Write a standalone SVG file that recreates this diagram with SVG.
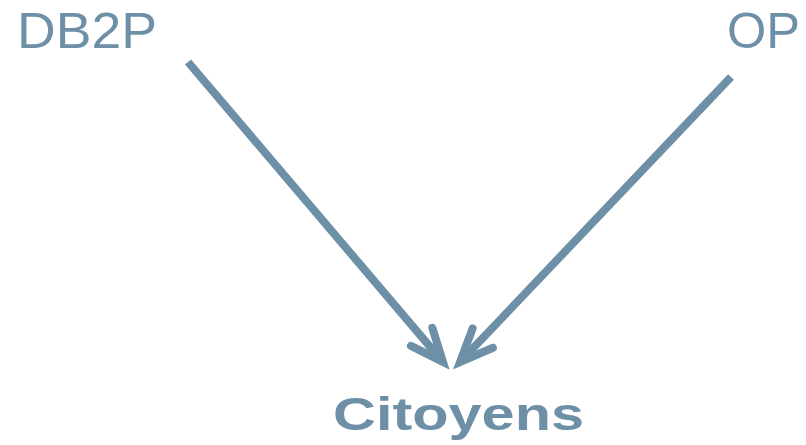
<svg xmlns="http://www.w3.org/2000/svg" width="806" height="445" viewBox="0 0 806 445">
  <style>
    .label { fill: #6d90a7; font-family: "Liberation Sans", Arial, sans-serif; }
    .src { font-size: 50px; font-weight: 300; }
    .dst { font-size: 47px; font-weight: bold; }
    .edge { stroke: #6d90a7; stroke-width: 8; fill: none; stroke-linecap: butt; }
  </style>
  <defs>
    <marker id="chevron" markerUnits="userSpaceOnUse" viewBox="0 0 60 40" markerWidth="60" markerHeight="40" refX="40" refY="20" orient="auto" overflow="visible">
      <path d="M11,6 L44,20 L11,34" fill="none" stroke="#6d90a7" stroke-width="8" stroke-linecap="round" stroke-linejoin="miter"/>
    </marker>
  </defs>

  <g id="node-db2p">
    <text class="label src" x="17" y="48" textLength="140" lengthAdjust="spacingAndGlyphs">DB2P</text>
  </g>
  <g id="node-op">
    <text class="label src" x="727" y="48" textLength="73" lengthAdjust="spacingAndGlyphs">OP</text>
  </g>
  <g id="node-citoyens">
    <text class="label dst" x="333" y="430" textLength="251" lengthAdjust="spacingAndGlyphs">Citoyens</text>
  </g>

  <g id="connectors">
    <line class="edge" x1="188" y1="62" x2="440.4" y2="358.9" marker-end="url(#chevron)"/>
    <line class="edge" x1="731" y1="77" x2="462.8" y2="359.1" marker-end="url(#chevron)"/>
  </g>
</svg>
